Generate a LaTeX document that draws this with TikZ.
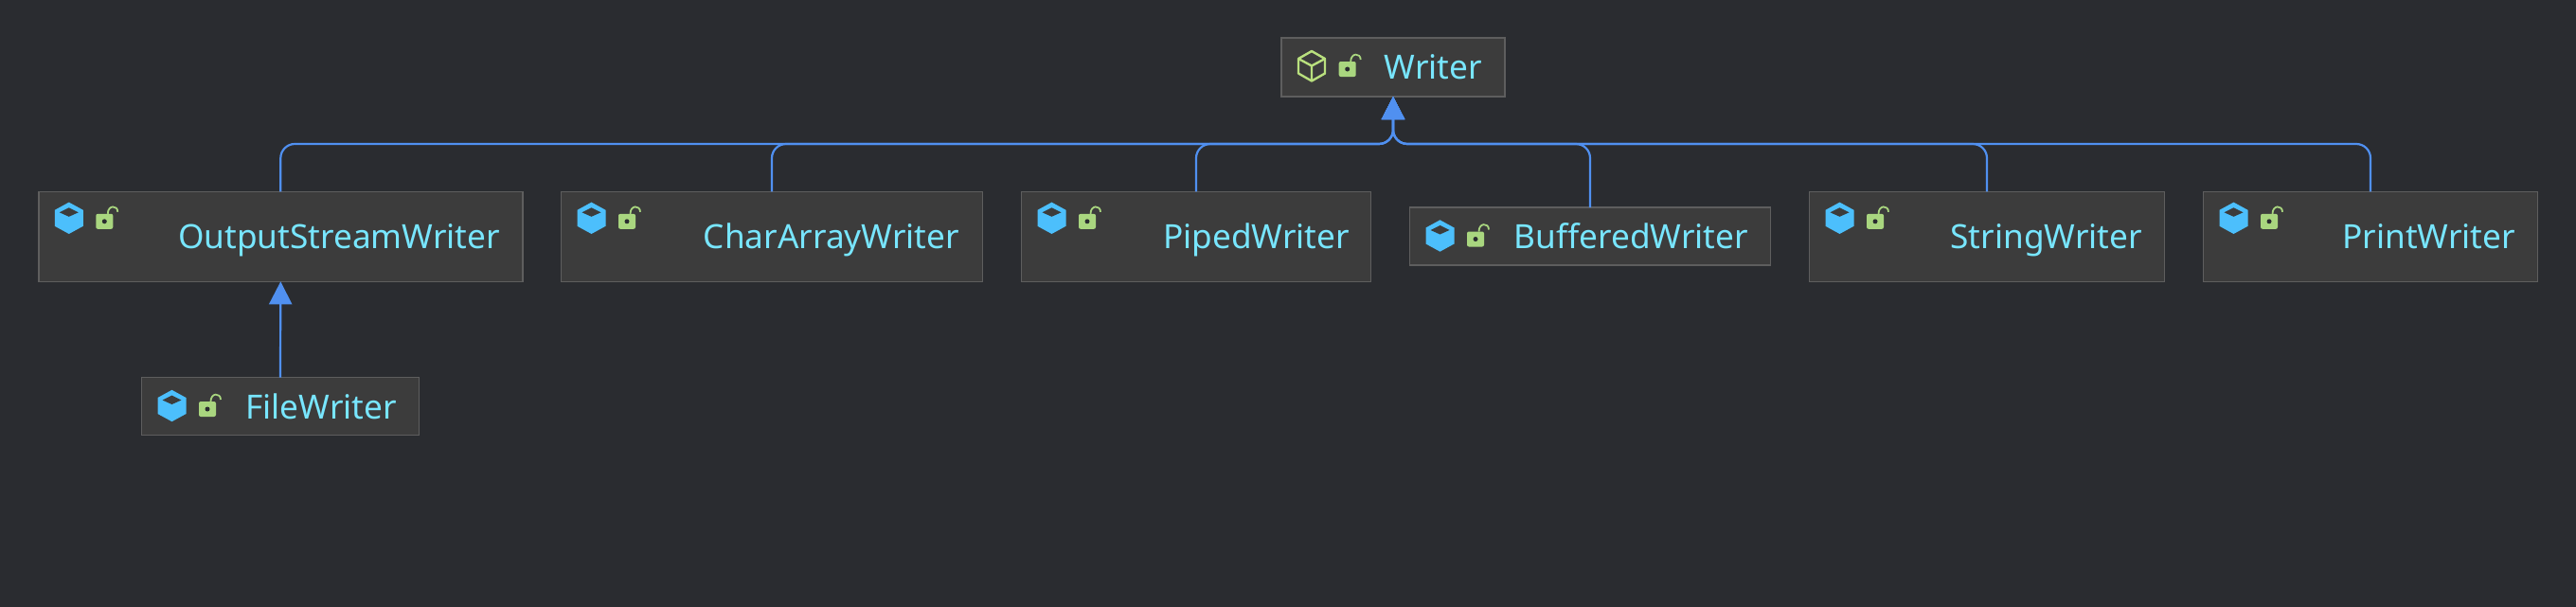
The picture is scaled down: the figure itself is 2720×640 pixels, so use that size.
\documentclass[tikz,border=0pt]{standalone}
\usepackage{fontspec}
\setmainfont{Noto Sans}
\usetikzlibrary{arrows.meta}
\definecolor{canvasbg}{HTML}{2A2C30}
\definecolor{boxbg}{HTML}{3C3C3C}
\definecolor{boxline}{HTML}{5E5E5E}
\definecolor{namecol}{HTML}{78E6FF}
\definecolor{linkcol}{HTML}{5090F0}
\definecolor{cubecol}{HTML}{4CBFFC}
\definecolor{lockcol}{HTML}{A9D67F}
\definecolor{abscol}{HTML}{B9E07E}
\tikzset{
  classbox/.style={draw=boxline,fill=boxbg,line width=1.5pt,inner sep=0pt,outer sep=0pt},
  classname/.style={text=namecol,inner sep=0pt,anchor=base east,font=\fontsize{35.2}{42}\selectfont},
  inherit/.style={draw=linkcol,line width=2.2pt,rounded corners=15pt,-{Triangle[width=24pt,length=24pt]}},
  solidcube/.pic={
    \fill[cubecol] (0,-16.7) -- (15,-8.5) -- (15,8.5) -- (0,16.7) -- (-15,8.5) -- (-15,-8.5) -- cycle;
    \fill[boxbg] (0,-11) -- (10,-6) -- (0,-1.5) -- (-10,-6) -- cycle;
  },
  hollowcube/.pic={
    \draw[abscol,line width=2.4pt,line join=round] (0,-15.5) -- (14,-7.5) -- (14,8) -- (0,16) -- (-14,8) -- (-14,-7.5) -- cycle;
    \draw[abscol,line width=2.4pt,line join=round] (-14,-7.5) -- (0,0) -- (14,-7.5) (0,0) -- (0,16);
  },
  openlock/.pic={
    \fill[lockcol,rounded corners=2pt] (-9,-8) rectangle (9,8);
    \draw[lockcol,line width=1.8pt] (3.5,-8) .. controls (3.5,-17.5) and (14,-17.5) .. (14,-10);
    \fill[canvasbg] (0,0) circle [radius=2.5pt];
  }
}
\begin{document}
\begin{tikzpicture}[x=1pt,y=-1pt]
\useasboundingbox (0,0) rectangle (2720,640);
\fill[canvasbg] (-5,-5) rectangle (2725,645);

\node[classbox,minimum width=236pt,minimum height=62pt] (writer) at (1471,71) {};
\node[classname] (writername) at (1565,83.5) {Writer};
\pic at (1385,69.5) {hollowcube};
\pic at (1422.7,73) {openlock};

\node[classbox,minimum width=511pt,minimum height=95pt] (output) at (296.3,249.8) {};
\node[classname] (outputname) at (528,262.5) {OutputStreamWriter};

\node[classbox,minimum width=445pt,minimum height=95pt] (chararray) at (815,249.8) {};
\node[classname] (chararrayname) at (1013,262.5) {CharArrayWriter};

\node[classbox,minimum width=369pt,minimum height=95pt] (piped) at (1263,249.8) {};
\node[classname] (pipedname) at (1425,262.5) {PipedWriter};

\node[classbox,minimum width=381pt,minimum height=61pt] (buffered) at (1679,249.5) {};
\node[classname] (bufferedname) at (1846,262.5) {BufferedWriter};

\node[classbox,minimum width=375pt,minimum height=95pt] (string) at (2098,249.8) {};
\node[classname] (stringname) at (2262,262.5) {StringWriter};

\node[classbox,minimum width=353pt,minimum height=95pt] (print) at (2503,249.8) {};
\node[classname] (printname) at (2656,262.5) {PrintWriter};

\node[classbox,minimum width=293pt,minimum height=61pt] (file) at (296,429) {};
\node[classname] (filename) at (419,442.5) {FileWriter};

% icons, top left of each box
\foreach \name/\dy in {output/28,chararray/28,piped/28,string/28,print/28,buffered/30,file/30} {
  \pic at ([shift={(32,\dy)}]\name.north west) {solidcube};
  \pic at ([shift={(69.5,\dy+3.5)}]\name.north west) {openlock};
}

\coordinate (merge) at (1471,152);
\foreach \name in {output,chararray,piped,buffered,string,print}
  \draw[inherit] (\name.north) |- (merge) -- (writer.south);

\draw[inherit] (file.north) -- (output.south);

\end{tikzpicture}
\end{document}
